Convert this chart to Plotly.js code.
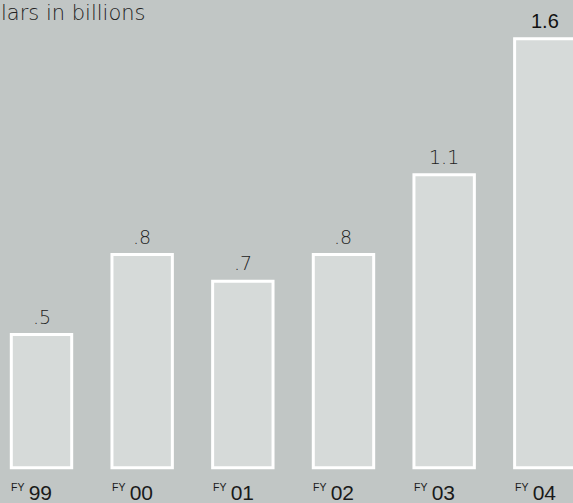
<!DOCTYPE html>
<html>
<head>
<meta charset="utf-8">
<script src="https://cdn.plot.ly/plotly-3.0.1.min.js"></script>
<style>html,body{margin:0;padding:0;background:#c1c6c5;}#chart{width:573px;height:503px;}</style>
</head>
<body>
<div id="chart"></div>
<script>
const categories = ['FY99', 'FY00', 'FY01', 'FY02', 'FY03', 'FY04'];
const yearLabels = ['99', '00', '01', '02', '03', '04'];
const values = [0.5, 0.8, 0.7, 0.8, 1.1, 1.61];
const valueLabels = ['.5', '.8', '.7', '.8', '1.1', '1.6'];
const titleText = 'lars in billions';

const bg = '#c1c6c5';
const trace = {
  type: 'bar',
  x: categories,
  y: values,
  marker: {color: '#d6dad9', line: {color: '#ffffff', width: 3}},
  text: valueLabels,
  textposition: 'none',
  hoverinfo: 'none'
};

const lightFont = '"DejaVu Sans", sans-serif';
const narrowFont = '"Liberation Sans Narrow", "Liberation Sans", sans-serif';
const annotations = [];
categories.forEach((c, i) => {
  const last = i === categories.length - 1;
  annotations.push({
    xref: 'x', yref: 'y', x: i, y: values[i],
    text: valueLabels[i],
    showarrow: false, xanchor: 'center', yanchor: 'bottom', yshift: 5,
    font: last ? {family: '"Liberation Sans", sans-serif', size: 20, color: '#111111'}
               : {family: lightFont, size: 19, color: '#222222', weight: 200}
  });
  annotations.push({
    xref: 'x', yref: 'paper', x: i - 0.3, y: 0, yanchor: 'bottom', yshift: -3,
    xanchor: 'left', xshift: -2,
    text: "<sup><span style='font-family:Liberation Sans;font-size:10.5px'>FY</span></sup>\u2009" + yearLabels[i],
    showarrow: false,
    font: {family: narrowFont, size: 21, color: '#1a1a1a'}
  });
});
annotations.push({
  xref: 'paper', yref: 'paper', x: 0, y: 1, xanchor: 'left', yanchor: 'top', xshift: -1, yshift: 1,
  text: titleText, showarrow: false,
  font: {family: lightFont, size: 21, color: '#222222', weight: 200}
});

const layout = {
  width: 573, height: 503,
  margin: {l: 0, r: 0, t: 0, b: 0},
  paper_bgcolor: bg, plot_bgcolor: bg,
  showlegend: false,
  bargap: 0.4,
  xaxis: {type: 'category', range: [-0.4123, 5.28], showgrid: false, zeroline: false, showticklabels: false, showline: false, ticks: ''},
  yaxis: {range: [-0.132, 1.7553], showgrid: false, zeroline: false, showticklabels: false, showline: false, ticks: ''},
  annotations: annotations
};

Plotly.newPlot('chart', [trace], layout, {staticPlot: true, displayModeBar: false});
</script>
</body>
</html>
